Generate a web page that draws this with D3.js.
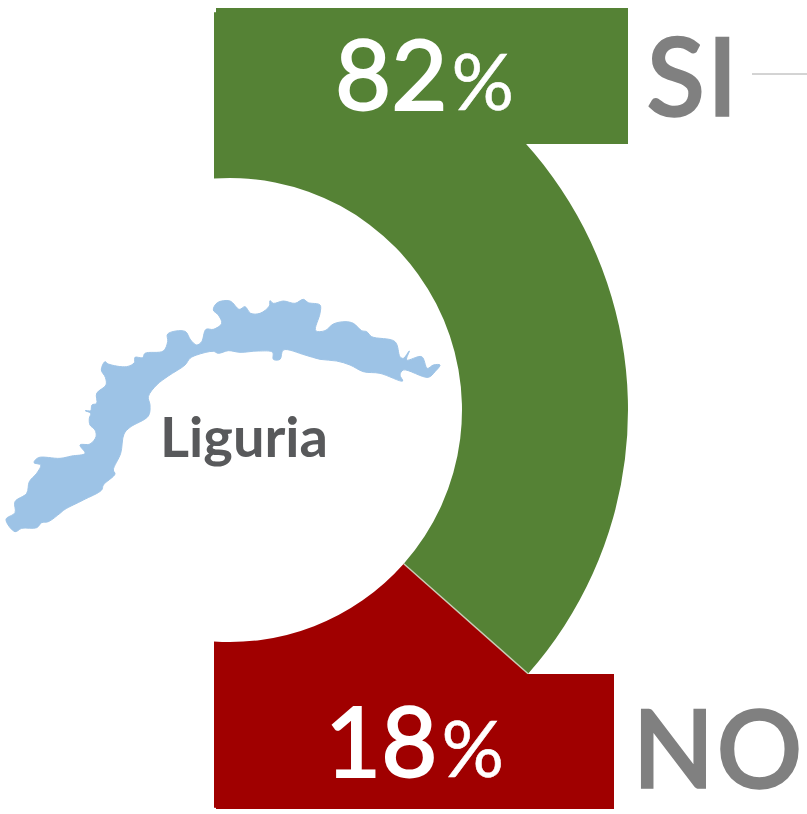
<!DOCTYPE html>
<html><head><meta charset="utf-8">
<style>html,body{margin:0;padding:0;background:#fff}svg{display:block}text{font-family:Lato,sans-serif}</style>
<script src="https://cdn.jsdelivr.net/npm/d3@7"></script></head><body>
<svg id="c" width="807" height="814"></svg>
<script>
const categories = ["SI", "NO"];
const values = [82, 18];
const colors = ["#558235", "#a00000"];
const regionName = "Liguria";
// Outline of the region, in trace units
const regionOutline = [[18,688],[45,668],[45,635],[80,610],[88,575],[110,550],[122,525],[102,518],[115,503],[180,505],[215,498],[255,490],[240,465],[270,462],[288,440],[285,420],[270,405],[268,385],[272,370],[256,362],[272,362],[276,345],[290,340],[290,310],[318,285],[316,262],[304,240],[315,215],[325,222],[380,230],[403,218],[405,202],[428,203],[435,190],[490,183],[503,155],[503,132],[555,124],[572,150],[590,165],[605,155],[618,118],[640,118],[665,100],[655,75],[640,60],[652,38],[690,33],[718,58],[735,50],[752,70],[780,70],[808,48],[810,32],[820,40],[850,33],[885,40],[910,28],[925,38],[960,45],[960,70],[947,122],[975,122],[1000,102],[1035,95],[1060,100],[1085,122],[1100,125],[1115,140],[1185,155],[1200,200],[1210,205],[1228,183],[1220,210],[1265,200],[1282,235],[1300,225],[1320,225],[1305,245],[1285,262],[1210,240],[1200,255],[1208,273],[1140,250],[1090,245],[1050,225],[1010,213],[960,208],[915,195],[850,180],[840,208],[820,208],[818,187],[775,183],[720,187],[685,182],[655,190],[640,184],[590,195],[570,205],[555,225],[505,258],[470,285],[445,320],[450,345],[445,378],[390,412],[372,432],[362,490],[340,540],[345,552],[310,585],[305,600],[250,630],[195,658],[180,670],[145,695],[125,698],[110,713],[65,715],[45,725]];

const svg = d3.select("#c");
const W = 807, H = 814;
const cx = 230, cy = 410, rIn = 232, rOut = 398, leftX = 214;

// The ring is not proportional in the picture: 82 reaches about 131.5 degrees of a half turn
const angle = d3.scaleLinear().domain([0, 82, 100]).range([0, 131.5, 180].map(d => d * Math.PI / 180));
const over = 6 * Math.PI / 180;

svg.append("defs").append("clipPath").attr("id", "left")
  .append("rect").attr("x", leftX).attr("y", 0).attr("width", W - leftX).attr("height", H);

const arc = d3.arc().innerRadius(rIn).outerRadius(rOut);
const cum = d3.cumsum(values);
const ring = svg.append("g").attr("clip-path", "url(#left)").append("g").attr("transform", `translate(${cx},${cy})`);
ring.selectAll("path").data(values).join("path")
  .attr("d", (d, i) => arc({
    startAngle: i === 0 ? -over : angle(cum[i - 1]),
    endAngle: i === values.length - 1 ? Math.PI + over : angle(cum[i])
  }))
  .attr("fill", (d, i) => colors[i]);

// pale seam between the two slices
const seam = angle(values[0]);
ring.append("line")
  .attr("x1", rIn * Math.sin(seam)).attr("y1", -rIn * Math.cos(seam))
  .attr("x2", rOut * Math.sin(seam)).attr("y2", -rOut * Math.cos(seam))
  .attr("stroke", "#c9cdb6").attr("stroke-width", 1.4);

// value boxes
const boxes = [{x:216,y:8,w:412,h:136},{x:216,y:674,w:398,h:135}];
svg.selectAll("rect.box").data(values).join("rect").attr("class", "box")
  .attr("x", (d, i) => boxes[i].x).attr("y", (d, i) => boxes[i].y)
  .attr("width", (d, i) => boxes[i].w).attr("height", (d, i) => boxes[i].h)
  .attr("fill", (d, i) => colors[i]);

// value labels
const vx = [335, 325], vy = [110, 777];
values.forEach((v, i) => {
  const t = svg.append("text").attr("x", vx[i]).attr("y", vy[i]).attr("fill", "#fff")
    .attr("stroke", "#fff");
  t.append("tspan").attr("font-size", 97).attr("stroke-width", 2).text(v);
  t.append("tspan").attr("font-size", 78).attr("dx", 4).attr("stroke-width", 0.6).text("%");
});

// category labels
const cxp = [647, 633], cyp = [115, 787];
svg.selectAll("text.cat").data(categories).join("text").attr("class", "cat")
  .attr("x", (d, i) => cxp[i]).attr("y", (d, i) => cyp[i])
  .attr("font-size", 106).attr("letter-spacing", 3).attr("fill", "#808080")
  .attr("stroke", "#808080").attr("stroke-width", 3.5).text(d => d);

svg.append("line").attr("x1", 752).attr("x2", 807).attr("y1", 74).attr("y2", 74)
  .attr("stroke", "#a8a8a8").attr("stroke-width", 1);

// region map
const mx = d3.scaleLinear().domain([0, 3]).range([0, 1]);
const my = d3.scaleLinear().domain([0, 3]).range([290, 291]);
svg.append("path")
  .attr("d", d3.line().x(d => mx(d[0])).y(d => my(d[1])).curve(d3.curveCatmullRomClosed.alpha(0.5))(regionOutline))
  .attr("fill", "#9dc3e6").attr("stroke", "#9dc3e6").attr("stroke-width", 1);

svg.append("text").attr("x", 160).attr("y", 457).attr("font-size", 56).attr("font-weight", 700)
  .attr("fill", "#58595b").text(regionName);
</script></body></html>
